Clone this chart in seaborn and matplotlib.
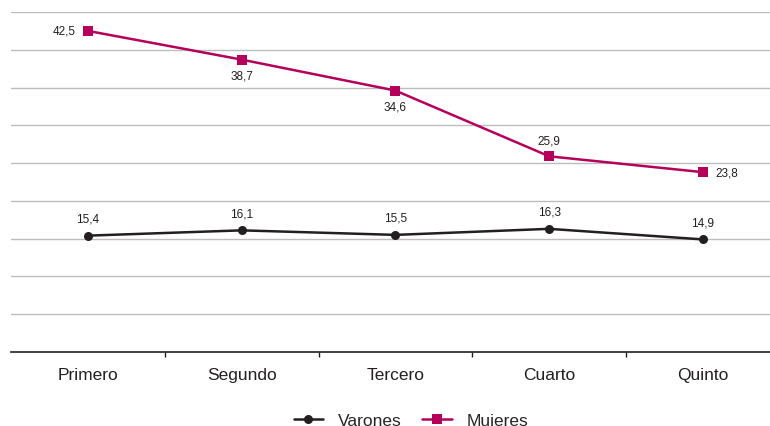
import numpy as np
import pandas as pd
import seaborn as sns
import matplotlib
matplotlib.use("Agg")
import matplotlib.pyplot as plt

# ---------- Data ----------
categorias = ["Primero", "Segundo", "Tercero", "Cuarto", "Quinto"]
varones = [15.4, 16.1, 15.5, 16.3, 14.9]
mujeres = [42.5, 38.7, 34.6, 25.9, 23.8]

# label placement per point for Mujeres (left / below / above / right)
pos_mujeres = ["left", "below", "below", "above", "right"]

C_VAR = "#231f20"
C_MUJ = "#b5005b"

sns.set_theme(style="white")
plt.rcParams["font.family"] = ["Liberation Sans", "DejaVu Sans"]

df = pd.DataFrame({
    "x": list(range(len(categorias))) * 2,
    "valor": varones + mujeres,
    "serie": ["Varones"] * len(varones) + ["Mujeres"] * len(mujeres),
})

fig = plt.figure(figsize=(7.7, 4.27), dpi=100)
ax = fig.add_axes([11 / 770, (427 - 353) / 427, 1 - 11 / 770, 340 / 427])

sns.lineplot(data=df[df.serie == "Varones"], x="x", y="valor", ax=ax, color=C_VAR,
             marker="o", markersize=6.5, markeredgewidth=0, linewidth=1.8, label="Varones")
sns.lineplot(data=df[df.serie == "Mujeres"], x="x", y="valor", ax=ax, color=C_MUJ,
             marker="s", markersize=7.2, markeredgewidth=0, linewidth=1.8, label="Mujeres")

ax.set_ylim(0, 45)
ax.set_xlim(-0.5, (770 - 88) / 153.75)
ax.set_yticks(np.arange(5, 46, 5))
ax.yaxis.grid(True, color="#bdbdbd", linewidth=1)
ax.tick_params(axis="y", left=False, labelleft=False)
ax.set_xticks(range(len(categorias)))
ax.set_xticklabels(categorias, fontsize=12.5, color="#231f20")
ax.set_xticks([0.5, 1.5, 2.5, 3.5], minor=True)
ax.tick_params(axis="x", which="major", bottom=False, pad=5)
ax.tick_params(axis="x", which="minor", bottom=True, length=3.5, width=1, color="#231f20", direction="out")
ax.set_xlabel("")
ax.set_ylabel("")
for s in ["top", "right", "left"]:
    ax.spines[s].set_visible(False)
ax.spines["bottom"].set_color("#231f20")
ax.spines["bottom"].set_linewidth(1.2)

fmt = lambda v: f"{v:.1f}".replace(".", ",")
for i, v in enumerate(varones):
    ax.annotate(fmt(v), (i, v), xytext=(0, 8), textcoords="offset points",
                ha="center", va="bottom", fontsize=8.5, color="#231f20")
offs = {"left": ((-9, 0), "right", "center"), "right": ((9, 0), "left", "center"),
        "above": ((0, 7), "center", "bottom"), "below": ((0, -7), "center", "top")}
for i, (v, p) in enumerate(zip(mujeres, pos_mujeres)):
    o, ha, va = offs[p]
    ax.annotate(fmt(v), (i, v), xytext=o, textcoords="offset points",
                ha=ha, va=va, fontsize=8.5, color="#231f20")

ax.legend(loc="center", bbox_to_anchor=(0.527, -0.2), ncol=2, frameon=False,
          fontsize=12.5, handlelength=1.7, columnspacing=1.2, handletextpad=0.85)

fig.savefig("out.png", dpi=100)
